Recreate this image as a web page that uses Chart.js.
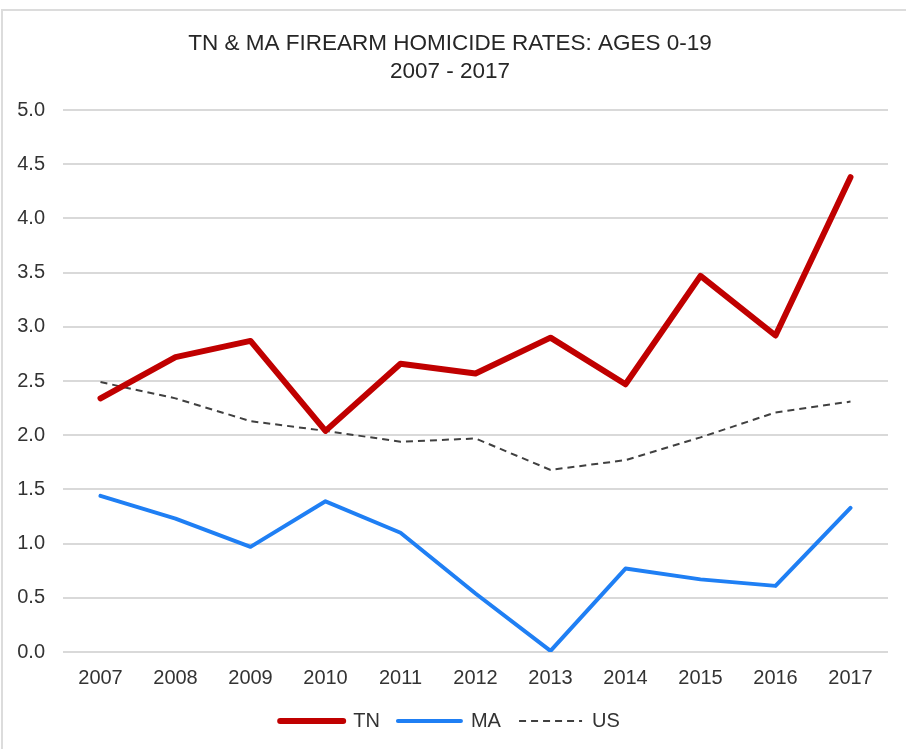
<!DOCTYPE html>
<html>
<head>
<meta charset="utf-8">
<script src="https://cdn.jsdelivr.net/npm/chart.js@4"></script>
<style>
  body { margin: 0; background: #fff; }
  #frame { position: absolute; left: 1px; top: 9px; width: 940px; height: 780px; border: 2px solid #dcdcdc; }
  #wrap { position: absolute; left: 0; top: 0; width: 906px; height: 749px; }
</style>
</head>
<body>
<div id="frame"></div>
<div id="wrap"><canvas id="homicideChart"></canvas></div>
<script>
// Chart data
const years = ['2007', '2008', '2009', '2010', '2011', '2012', '2013', '2014', '2015', '2016', '2017'];
const tnRates = [2.34, 2.72, 2.87, 2.04, 2.66, 2.57, 2.90, 2.47, 3.47, 2.92, 4.38];
const maRates = [1.44, 1.23, 0.97, 1.39, 1.10, 0.54, 0.01, 0.77, 0.67, 0.61, 1.33];
const usRates = [2.49, 2.34, 2.13, 2.04, 1.94, 1.97, 1.68, 1.77, 1.98, 2.21, 2.31];
const titleLines = ['TN & MA FIREARM HOMICIDE RATES: AGES 0-19', '2007 - 2017'];

document.addEventListener('DOMContentLoaded', function() {
    const ctx = document.getElementById('homicideChart');
    const fontFamily = "'Liberation Sans', Arial, sans-serif";

    new Chart(ctx, {
        type: 'line',
        data: {
            labels: years,
            datasets: [{
                label: 'TN',
                data: tnRates,
                borderColor: '#c00000',
                backgroundColor: '#c00000',
                borderWidth: 6,
                borderCapStyle: 'round',
                borderJoinStyle: 'round',
                pointRadius: 0,
                tension: 0
            }, {
                label: 'MA',
                data: maRates,
                borderColor: '#1f7ff4',
                backgroundColor: '#1f7ff4',
                borderWidth: 4,
                borderCapStyle: 'round',
                borderJoinStyle: 'round',
                pointRadius: 0,
                tension: 0
            }, {
                label: 'US',
                data: usRates,
                borderColor: '#404040',
                backgroundColor: '#404040',
                borderWidth: 2,
                borderDash: [7, 5],
                pointRadius: 0,
                tension: 0
            }]
        },
        options: {
            responsive: true,
            maintainAspectRatio: false,
            animation: false,
            layout: {
                padding: { top: 24, left: 12, right: 18, bottom: 8 }
            },
            scales: {
                x: {
                    offset: true,
                    grid: { display: false, drawTicks: false },
                    border: { display: false },
                    ticks: {
                        color: '#333',
                        padding: 14,
                        font: { size: 20, family: fontFamily }
                    }
                },
                y: {
                    min: 0,
                    max: 5,
                    afterFit: function(scale) { scale.width = 51; },
                    border: { display: false },
                    grid: { color: '#d9d9d9', lineWidth: 2, drawTicks: false },
                    ticks: {
                        stepSize: 0.5,
                        color: '#333',
                        padding: 18,
                        font: { size: 20, family: fontFamily },
                        callback: function(value) { return value.toFixed(1); }
                    }
                }
            },
            plugins: {
                title: {
                    display: true,
                    text: titleLines,
                    color: '#262626',
                    font: { size: 22.5, weight: 'normal', family: fontFamily, lineHeight: 1.245 },
                    padding: { top: 6, bottom: 24 }
                },
                legend: {
                    position: 'bottom',
                    labels: {
                        usePointStyle: true,
                        pointStyle: 'line',
                        pointStyleWidth: 63,
                        padding: 7,
                        color: '#333',
                        font: { size: 20, family: fontFamily },
                        // keep the dash and caps of each line in its legend sample
                        generateLabels: function(chart) {
                            const items = Chart.defaults.plugins.legend.labels.generateLabels(chart);
                            items.forEach(function(item, i) {
                                const ds = chart.data.datasets[item.datasetIndex];
                                item.lineDash = ds.borderDash || [];
                                item.lineCap = ds.borderCapStyle || 'butt';
                                item.lineWidth = ds.borderWidth;
                                item.strokeStyle = ds.borderColor;
                                if (i < items.length - 1) item.text = ds.label + '  ';
                            });
                            return items;
                        }
                    }
                },
                tooltip: { enabled: false }
            }
        }
    });
});
</script>
</body>
</html>
